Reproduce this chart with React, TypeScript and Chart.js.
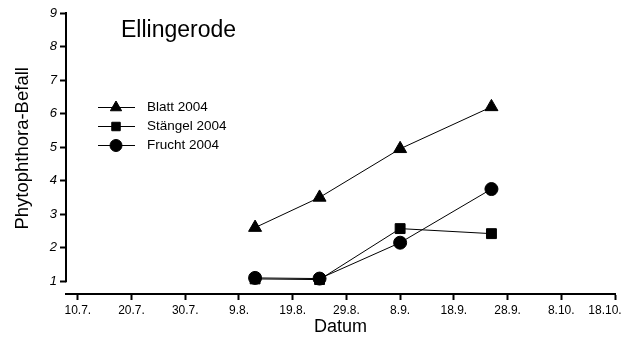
import React, { useEffect, useRef } from 'react';
import { Chart, registerables } from 'chart.js';
import { drawPoint } from 'chart.js/helpers';

Chart.register(...registerables);

const FONT = '"Liberation Sans", Arial, sans-serif';

const chartTitle = 'Ellingerode';
const xTitle = 'Datum';
const yTitle = 'Phytophthora-Befall';

const startDate = '2004-07-10';
const tickDays = [0, 10, 20, 30, 40, 50, 60, 70, 80, 90, 100];
const tickLabels = ['10.7.', '20.7.', '30.7.', '9.8.', '19.8.', '29.8.', '8.9.', '18.9.', '28.9.', '8.10.', '18.10.'];
const yTicks = [1, 2, 3, 4, 5, 6, 7, 8, 9];

const sampleDates = ['2004-08-12', '2004-08-24', '2004-09-08', '2004-09-25'];
const seriesNames = ['Blatt 2004', 'Stängel 2004', 'Frucht 2004'];
const blatt = [2.6, 3.5, 4.95, 6.2];
const staengel = [1.07, 1.05, 2.57, 2.42];
const frucht = [1.1, 1.08, 2.15, 3.75];

const dayOffset = (d: string) =>
  Math.round((Date.parse(d) - Date.parse(startDate)) / 86400000);

const toPoints = (vals: number[]) =>
  sampleDates.map((d, i) => ({ x: dayOffset(d), y: vals[i] }));

const overlayPlugin = {
  id: 'overlay',
  beforeDatasetsDraw(chart: any) {
    const { ctx, chartArea, scales } = chart;
    const y = scales.y;
    ctx.save();
    ctx.strokeStyle = '#000';
    ctx.lineWidth = 2;
    ctx.beginPath();
    const x = Math.round(chartArea.left);
    ctx.moveTo(x, y.getPixelForValue(yTicks[yTicks.length - 1]) - 1);
    ctx.lineTo(x, y.getPixelForValue(yTicks[0]) + 1);
    ctx.stroke();
    ctx.restore();
  },
  afterDatasetsDraw(chart: any) {
    const { ctx } = chart;
    ctx.save();
    ctx.fillStyle = '#000';
    ctx.textBaseline = 'alphabetic';
    ctx.font = `23px ${FONT}`;
    ctx.fillText(chartTitle, 121, 36.5);

    const rows = [107.5, 126.5, 145.5];
    const legendRadii = [6.5, 6, 6];
    chart.data.datasets.forEach((ds: any, i: number) => {
      const y = rows[i];
      ctx.strokeStyle = '#000';
      ctx.fillStyle = '#000';
      ctx.lineWidth = 1;
      ctx.beginPath();
      ctx.moveTo(98, y);
      ctx.lineTo(135, y);
      ctx.stroke();
      drawPoint(ctx, { pointStyle: ds.pointStyle, radius: legendRadii[i], borderWidth: 1, rotation: 0 } as any, 116, y);
      ctx.font = `13.5px ${FONT}`;
      ctx.textBaseline = 'middle';
      ctx.fillText(ds.label, 147, y);
    });
    ctx.restore();
  },
};

export default function App() {
  const ref = useRef<HTMLCanvasElement | null>(null);

  useEffect(() => {
    document.body.style.margin = '0';
    const canvas = ref.current;
    if (!canvas) return;
    const styles = ['triangle', 'rect', 'circle'];
    const radii = [7.5, 7, 6.5];
    const series = [blatt, staengel, frucht];
    const chart = new Chart(canvas, {
      type: 'line',
      data: {
        datasets: series.map((vals, i) => ({
          label: seriesNames[i],
          data: toPoints(vals),
          borderColor: '#000',
          backgroundColor: '#000',
          borderWidth: 1,
          pointStyle: styles[i],
          pointRadius: radii[i],
          pointBorderWidth: 1,
          pointBorderColor: '#000',
          pointBackgroundColor: '#000',
          tension: 0,
          clip: false,
        })) as any,
      },
      options: {
        animation: false,
        responsive: false,
        devicePixelRatio: 1,
        layout: { padding: { top: 13, left: 0, right: 9, bottom: 0 } },
        plugins: { legend: { display: false }, tooltip: { enabled: false }, title: { display: false } },
        scales: {
          x: {
            type: 'linear',
            min: -2.2,
            max: 100,
            afterBuildTicks: (s: any) => {
              s.ticks = tickDays.map((v) => ({ value: v }));
            },
            afterFit: (s: any) => {
              s.height = 48;
              s.paddingLeft = 0;
              s.paddingRight = 0;
            },
            ticks: {
              autoSkip: false,
              maxRotation: 0,
              color: '#000',
              padding: 3,
              font: { family: FONT, size: 12 },
              callback: (v: any) => {
                const i = tickDays.indexOf(Number(v));
                if (i < 0) return '';
                return i === tickLabels.length - 1 ? tickLabels[i] + '      ' : tickLabels[i];
              },
            },
            grid: { drawOnChartArea: false, drawTicks: true, tickLength: 6, tickWidth: 2, color: '#000' },
            border: { display: true, width: 2, color: '#000' },
            title: { display: true, text: xTitle, color: '#000', font: { family: FONT, size: 18 }, padding: { top: 0, bottom: 4 } },
          },
          y: {
            type: 'linear',
            min: 0.62,
            max: 9,
            afterBuildTicks: (s: any) => {
              s.ticks = yTicks.map((v) => ({ value: v }));
            },
            afterFit: (s: any) => {
              s.width = 66;
              s.paddingTop = 0;
              s.paddingBottom = 0;
            },
            ticks: {
              color: '#000',
              padding: 3,
              font: { family: FONT, size: 13, style: 'italic' },
              callback: (v: any) => String(v),
            },
            grid: { drawOnChartArea: false, drawTicks: true, tickLength: 6, tickWidth: 2, color: '#000' },
            border: { display: false },
            title: { display: true, text: '  ' + yTitle, color: '#000', font: { family: FONT, size: 18.5 }, padding: { top: 12, bottom: 0 } },
          },
        },
      } as any,
      plugins: [overlayPlugin],
    });
    return () => chart.destroy();
  }, []);

  return (
    <div style={{ width: 624, height: 342, background: '#fff' }}>
      <canvas ref={ref} width={624} height={342} />
    </div>
  );
}
